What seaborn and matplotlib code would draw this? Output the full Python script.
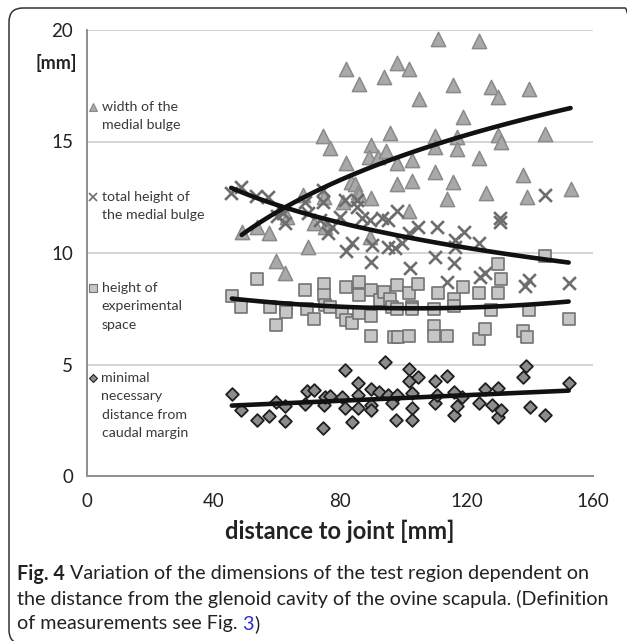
import numpy as np
import pandas as pd
import seaborn as sns
import matplotlib.pyplot as plt
from matplotlib.patches import FancyBboxPatch
from matplotlib.transforms import IdentityTransform

# width of the medial bulge (triangles)
tri_x = [48.9, 53.7, 57.7, 59.7, 62.7, 63.2, 68.4, 69.8, 71.7, 74.7, 76.8, 74.8, 75.3,
         81.0, 81.9, 81.9, 83.5, 84.7, 85.9, 85.7, 85.9, 89.7, 89.3, 91.9, 89.7, 89.6,
         93.9, 94.7, 95.8, 97.9, 97.9, 97.9, 101.9, 101.9, 102.9, 102.9, 104.9,
         109.9, 109.9, 109.9, 111.0, 113.9, 115.8, 115.8, 116.9, 116.9, 119.0,
         124.0, 124.0, 126.2, 127.8, 130.0, 130.0, 130.8, 138.0, 139.0, 139.9, 144.9, 152.9]
tri_y = [10.96, 11.15, 10.9, 9.65, 9.09, 11.63, 12.6, 10.28, 11.35, 15.26, 14.7, 12.52, 11.18,
         12.3, 18.24, 14.05, 13.2, 13.1, 17.6, 12.75, 12.6, 14.84, 14.32, 14.32, 12.45, 10.73,
         17.88, 14.59, 15.37, 18.5, 14.02, 13.08, 18.25, 11.9, 14.17, 13.23, 16.9,
         15.25, 14.77, 13.65, 19.58, 12.41, 17.52, 13.17, 15.22, 14.65, 16.08,
         19.5, 14.25, 12.68, 17.43, 16.98, 15.29, 15.0, 13.5, 12.5, 17.34, 15.34, 12.86]

# total height of the medial bulge (crosses)
crs_x = [45.6, 48.6, 53.5, 57.2, 60.0, 62.1, 62.7, 69.0, 69.8, 74.6, 74.6, 73.7, 76.1, 77.4,
         80.1, 81.6, 82.0, 83.8, 85.3, 85.3, 86.9, 89.6, 90.1, 89.8, 93.2, 95.3, 95.3, 97.5,
         98.0, 99.6, 101.7, 102.2, 104.8, 109.9, 110.7, 113.8, 115.9, 116.5, 116.3, 119.1,
         123.8, 124.4, 126.0, 130.7, 130.7, 138.4, 139.7, 144.9, 152.3]
crs_y = [12.68, 12.95, 12.56, 12.5, 11.65, 11.78, 11.33, 12.3, 11.78, 12.82, 12.3, 11.48, 10.88, 11.18,
         11.63, 12.38, 10.1, 10.43, 12.38, 12.08, 11.57, 11.48, 10.36, 9.61, 11.57, 11.48, 10.28, 10.22,
         11.9, 10.43, 10.88, 9.31, 11.18, 9.84, 11.18, 8.71, 9.54, 10.58, 10.28, 10.96,
         10.43, 8.94, 9.09, 11.4, 11.55, 8.52, 8.79, 12.6, 8.64]

# height of experimental space (squares)
sq_x = [45.8, 48.7, 53.7, 57.8, 59.8, 62.9, 62.9, 68.9, 69.6, 71.7, 74.8, 74.8, 75.3, 76.8,
        80.6, 81.9, 81.9, 83.8, 85.9, 85.9, 85.9, 89.9, 89.9, 89.9, 92.7, 93.8, 95.9, 96.4, 97.2,
        98.0, 98.0, 98.2, 101.8, 101.9, 102.8, 102.8, 104.8, 109.8, 109.8, 109.8, 110.9, 113.8,
        115.9, 115.9, 119.0, 123.9, 123.9, 125.9, 127.9, 130.0, 130.8, 130.0, 138.0, 139.0,
        139.8, 144.9, 152.3]
sq_y = [8.08, 7.57, 8.82, 7.59, 6.78, 7.55, 7.37, 8.36, 7.47, 7.03, 8.62, 8.1, 7.67, 7.59,
        7.36, 8.46, 7.0, 6.88, 8.72, 8.12, 7.33, 8.34, 7.16, 6.3, 7.89, 8.26, 7.95, 7.59, 6.22,
        8.58, 7.5, 6.25, 8.2, 6.28, 7.6, 7.47, 8.62, 7.47, 6.73, 6.28, 8.19, 6.28,
        7.95, 7.64, 8.46, 8.19, 6.14, 6.6, 7.44, 8.22, 8.82, 9.52, 6.5, 6.25,
        7.45, 9.87, 7.03]

# minimal necessary distance from caudal margin (diamonds)
dia_x = [45.8, 48.7, 53.7, 57.7, 59.8, 62.7, 62.7, 68.8, 69.5, 71.8, 74.7, 74.8, 75.3, 76.9,
         80.6, 81.6, 81.6, 83.8, 85.7, 85.7, 85.7, 89.8, 89.8, 89.8, 92.2, 94.1, 95.1, 96.5,
         97.7, 98.0, 101.7, 101.7, 102.7, 102.7, 102.7, 104.8, 109.9, 109.9, 110.6, 113.8,
         115.9, 115.9, 117.0, 118.5, 123.8, 126.0, 128.0, 130.0, 130.0, 131.0, 137.9, 138.9,
         140.0, 144.9, 152.3]
dia_y = [3.67, 2.96, 2.49, 2.7, 3.3, 3.13, 2.45, 3.22, 3.83, 3.85, 2.14, 3.18, 3.53, 3.58,
         3.56, 4.75, 3.04, 2.43, 4.16, 3.63, 3.04, 3.89, 3.18, 2.96, 3.78, 5.13, 3.63, 3.26,
         2.51, 3.63, 4.8, 4.27, 3.71, 3.04, 2.51, 4.42, 4.27, 3.26, 3.63, 4.48,
         3.78, 2.74, 3.14, 3.56, 3.26, 3.89, 3.18, 3.93, 2.66, 2.96, 4.42, 4.93,
         3.08, 2.74, 4.18]

x_ticks = [0, 40, 80, 120, 160]
y_ticks = [0, 5, 10, 15, 20]

sns.set_style("white")
plt.rcParams['font.family'] = ['Lato', 'DejaVu Sans']

W, H = 627, 641
fig = plt.figure(figsize=(W / 100, H / 100), dpi=100)
ax = fig.add_axes([87 / W, 1 - 476 / H, 506 / W, 446 / H])

sns.scatterplot(x=tri_x, y=tri_y, marker='^', s=105, color='#a9a9a9', edgecolor='#8a8a8a',
                linewidth=1.1, ax=ax, zorder=3)
sns.scatterplot(x=crs_x, y=crs_y, marker='x', s=85, color='#6d6d6d', linewidth=1.9, ax=ax, zorder=3)
sns.scatterplot(x=sq_x, y=sq_y, marker='s', s=78, color='#c6c6c6', edgecolor='#737373',
                linewidth=1.2, ax=ax, zorder=3)
sns.scatterplot(x=dia_x, y=dia_y, marker='D', s=42, color='#8c8c8c', edgecolor='#1e1e1e',
                linewidth=1.3, ax=ax, zorder=3)


def trend(xs, ys, kind):
    xs = np.asarray(xs)
    ys = np.asarray(ys)
    xx = np.linspace(xs.min(), xs.max(), 100)
    if kind == 'log':
        c = np.polyfit(np.log(xs), ys, 1)
        return xx, np.polyval(c, np.log(xx))
    c = np.polyfit(xs, ys, 2 if kind == 'poly' else 1)
    return xx, np.polyval(c, xx)


for xs, ys, kind in [(tri_x, tri_y, 'log'), (crs_x, crs_y, 'log'),
                     (sq_x, sq_y, 'poly'), (dia_x, dia_y, 'lin')]:
    tx, ty = trend(xs, ys, kind)
    sns.lineplot(x=tx, y=ty, color='#111111', linewidth=3.3, ax=ax, zorder=4,
                 solid_capstyle='round')

ax.set_xlim(0, 160)
ax.set_ylim(0, 20)
ax.set_xticks(x_ticks)
ax.set_yticks(y_ticks)
ax.yaxis.grid(True, color='#d4d4d4', linewidth=1.4)
ax.set_axisbelow(True)
for side in ['top', 'right']:
    ax.spines[side].set_visible(False)
for side in ['left', 'bottom']:
    ax.spines[side].set_color('#8f8f8f')
    ax.spines[side].set_linewidth(1.4)
ax.tick_params(axis='both', direction='out', length=5, width=1.2, color='#8f8f8f',
               labelsize=13.5, labelcolor='#222222', pad=7)
ax.tick_params(axis='y', pad=5)
ax.set_xlabel('distance to joint [mm]', fontsize=17, fontweight='bold', color='#222222',
              labelpad=7)

fig.text(56 / W, 1 - 63 / H, '[mm]', fontsize=13, fontweight='bold', color='#222222',
         ha='center', va='center')

# legend written inside the plot area, as in the original
legend_items = [
    ('^', '#a9a9a9', '#8a8a8a', 107, ['width of the', 'medial bulge']),
    ('x', '#6d6d6d', '#6d6d6d', 197, ['total height of', 'the medial bulge']),
    ('s', '#c6c6c6', '#737373', 288, ['height of', 'experimental', 'space']),
    ('D', '#8c8c8c', '#1e1e1e', 378, ['minimal', 'necessary', 'distance from', 'caudal margin']),
]
for mk, fc, ec, top, lines in legend_items:
    ms = 6 if mk != 'D' else 4.5
    fig.add_artist(plt.Line2D([93 / W], [1 - top / H], marker=mk, markersize=ms,
                              markerfacecolor=fc, markeredgecolor=ec,
                              markeredgewidth=1.2 if mk == 'x' else 0.8, linestyle='none'))
    for i, line in enumerate(lines):
        fig.text(101.5 / W, 1 - (top + i * 18.4) / H, line, fontsize=10.2, color='#3a3a3a',
                 ha='left', va='center')

# caption
cfs = 14.2
cap_kw = dict(fontsize=cfs, color='#222222', va='center')
t1 = fig.text(17 / W, 1 - 574 / H, 'Fig. 4', fontweight='bold', **cap_kw)
ax.annotate(' Variation of the dimensions of the test region dependent on', xy=(1, 0.5),
            xycoords=t1, va='center', fontsize=cfs, color='#222222', annotation_clip=False)
fig.text(17 / W, 1 - 599 / H, 'the distance from the glenoid cavity of the ovine scapula. (Definition',
         **cap_kw)
t3 = fig.text(17 / W, 1 - 624 / H, 'of measurements see Fig. ', **cap_kw)
t4 = ax.annotate('3', xy=(1, 0.5), xycoords=t3, va='center', fontsize=cfs, color='#2b2bd9',
                 annotation_clip=False)
ax.annotate(')', xy=(1, 0.5), xycoords=t4, va='center', fontsize=cfs, color='#222222',
            annotation_clip=False)

# rounded frame around figure and caption
frame = FancyBboxPatch((9, -3), 630, 636, boxstyle='round,pad=0,rounding_size=14',
                       transform=IdentityTransform(), facecolor='none', edgecolor='#333333',
                       linewidth=1.1)
fig.add_artist(frame)

fig.savefig('out.png', dpi=100)
